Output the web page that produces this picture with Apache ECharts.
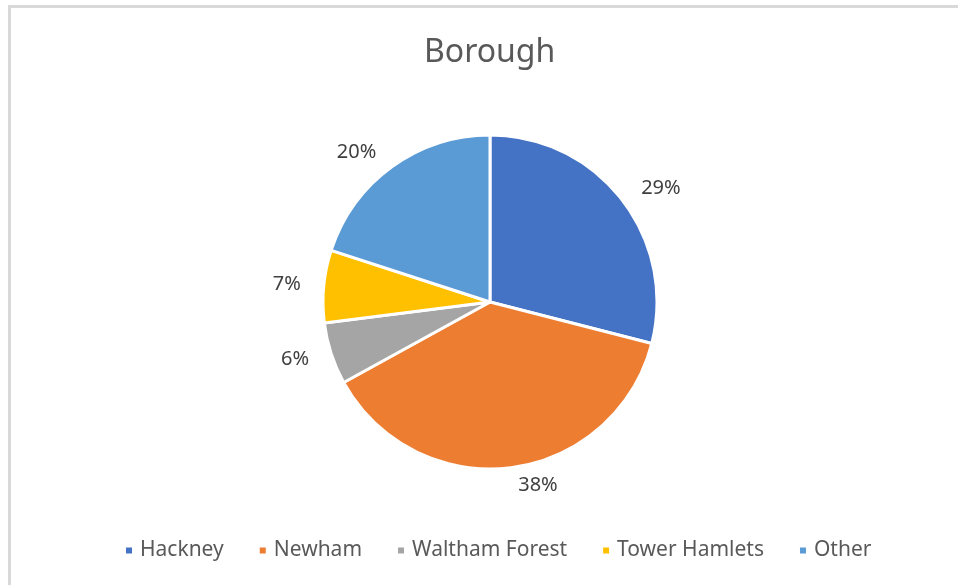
<!DOCTYPE html>
<html lang="en">
<head>
    <meta charset="UTF-8">
    <title>Borough</title>
    <script src="https://cdn.jsdelivr.net/npm/echarts@6/dist/echarts.min.js"></script>
    <style type="text/css">
        *{
            margin: 0;
            padding: 0;
        }
        body{
            background: #fff;
            overflow: hidden;
        }
        #chart{
            width: 958px;
            height: 585px;
            position: absolute;
            left: 0;
            top: 0;
        }
        .frame{
            position: absolute;
            left: 8px;
            top: 5px;
            width: 1100px;
            height: 700px;
            border: 3px solid #d9d9d9;
            pointer-events: none;
        }
    </style>
</head>
<body>
    <div id="chart"></div>
    <div class="frame"></div>
</body>
<script>
    // data
    var boroughs = ['Hackney', 'Newham', 'Waltham Forest', 'Tower Hamlets', 'Other'];
    var shares = [29, 38, 6, 7, 20];
    var colors = ['#4472C4', '#ED7D31', '#A5A5A5', '#FFC000', '#5B9BD5'];

    var pieData = [];
    for (var i = 0; i < boroughs.length; i++) {
        pieData.push({name: boroughs[i], value: shares[i]});
    }

    var myChart = echarts.init(document.getElementById('chart'));
    var option = {
        animation: false,
        color: colors,
        title: {
            text: 'Borough',
            left: 419,
            top: 32,
            textStyle: {
                fontFamily: 'Noto Sans',
                fontSize: 32,
                fontWeight: 'normal',
                color: '#595959'
            }
        },
        legend: {
            bottom: 19,
            left: 119,
            icon: 'rect',
            itemWidth: 8,
            itemHeight: 8,
            itemGap: 34,
            data: boroughs,
            textStyle: {
                fontFamily: 'Noto Sans',
                fontSize: 21,
                color: '#595959',
                padding: [0, 0, 0, 2]
            }
        },
        series: [
            {
                name: 'Borough',
                type: 'pie',
                radius: 167,
                center: [490, 302],
                startAngle: 90,
                clockwise: true,
                data: pieData,
                percentPrecision: 0,
                itemStyle: {
                    borderColor: '#fff',
                    borderWidth: 3
                },
                label: {
                    show: true,
                    position: 'outside',
                    formatter: '{d}%',
                    fontFamily: 'Noto Sans',
                    fontSize: 20,
                    color: '#404040'
                },
                labelLine: {
                    show: false,
                    length: 18,
                    length2: 0
                },
                emphasis: {disabled: true}
            }
        ]
    };
    myChart.setOption(option);
</script>
</html>
